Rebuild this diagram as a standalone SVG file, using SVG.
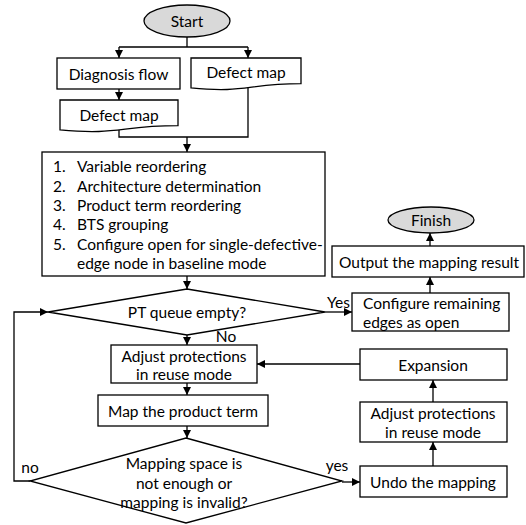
<svg xmlns="http://www.w3.org/2000/svg" width="526" height="525" viewBox="0 0 526 525">
<style>
.s{fill:#fff;stroke:#000;stroke-width:1.3}
.e{fill:#d9d9d9;stroke:#000;stroke-width:1.3}
.c{fill:none;stroke:#000;stroke-width:1.3}
text{font-family:Lato,"Liberation Sans",sans-serif;font-size:15.5px;fill:#000}
.m{text-anchor:middle;dominant-baseline:central}
.l{dominant-baseline:central}
</style>
<defs>
<marker id="a" markerUnits="userSpaceOnUse" markerWidth="9" markerHeight="9" refX="8" refY="4" orient="auto"><path d="M0,0 L8,4 L0,8 z" fill="#000"/></marker>
</defs>
<g id="connectors">
<path class="c" d="M187,37 V47 M119,47 H248"/>
<path class="c" d="M119,47 V58" marker-end="url(#a)"/>
<path class="c" d="M248,47 V58" marker-end="url(#a)"/>
<path class="c" d="M119,89 V100" marker-end="url(#a)"/>
<path class="c" d="M119,130 V137 H248 V87"/>
<path class="c" d="M187,137 V152" marker-end="url(#a)"/>
<path class="c" d="M187,276 V289" marker-end="url(#a)"/>
<path class="c" d="M325,312 H352" marker-end="url(#a)"/>
<path class="c" d="M430,293 V277" marker-end="url(#a)"/>
<path class="c" d="M430,246 V233" marker-end="url(#a)"/>
<path class="c" d="M187,335 V345" marker-end="url(#a)"/>
<path class="c" d="M187,383 V395" marker-end="url(#a)"/>
<path class="c" d="M187,426 V438" marker-end="url(#a)"/>
<path class="c" d="M30,481 H14 V312 H48" marker-end="url(#a)"/>
<path class="c" d="M342,482 H360" marker-end="url(#a)"/>
<path class="c" d="M433,466 V442" marker-end="url(#a)"/>
<path class="c" d="M433,402 V380" marker-end="url(#a)"/>
<path class="c" d="M360,364 H257" marker-end="url(#a)"/>
<text class="l" x="327" y="302">Yes</text>
<text class="m" x="226" y="336">No</text>
<text class="m" x="30" y="467">no</text>
<text class="m" x="337" y="465">yes</text>
</g>
<g id="start"><ellipse class="e" cx="187" cy="21" rx="43" ry="16"/><text class="m" x="187" y="21">Start</text></g>
<g id="diagnosis"><rect class="s" x="57" y="58" width="123" height="31"/><text class="m" x="118.5" y="74">Diagnosis flow</text></g>
<g id="defect-map-1"><path class="s" d="M191,58 H301 V83.7 C246,83.7 246,93.4 191,87.9 Z"/><text class="m" x="246" y="72">Defect map</text></g>
<g id="defect-map-2"><path class="s" d="M60,100 H178 V125.7 C119,125.7 119,135.4 60,129.9 Z"/><text class="m" x="119" y="115">Defect map</text></g>
<g id="steps"><rect class="s" x="42" y="152" width="283" height="124"/>
<text class="l" x="53" y="166">1.</text><text class="l" x="77" y="166">Variable reordering</text>
<text class="l" x="53" y="186">2.</text><text class="l" x="77" y="186">Architecture determination</text>
<text class="l" x="53" y="205">3.</text><text class="l" x="77" y="205">Product term reordering</text>
<text class="l" x="53" y="224">4.</text><text class="l" x="77" y="224">BTS grouping</text>
<text class="l" x="53" y="244">5.</text><text class="l" x="77" y="244">Configure open for single-defective-</text>
<text class="l" x="77" y="263">edge node in baseline mode</text>
</g>
<g id="pt-queue"><path class="s" d="M187,289 L325,312 L187,335 L48,312 Z"/><text class="m" x="187" y="312">PT queue empty?</text></g>
<g id="configure"><rect class="s" x="352" y="293" width="157" height="38"/><text class="l" x="363" y="303">Configure remaining</text><text class="l" x="363" y="322">edges as open</text></g>
<g id="output"><rect class="s" x="332" y="246" width="192" height="31"/><text class="m" x="429" y="262">Output the mapping result</text></g>
<g id="finish"><ellipse class="e" cx="431" cy="220" rx="43" ry="13"/><text class="m" x="431" y="220">Finish</text></g>
<g id="adjust-1"><rect class="s" x="111" y="345" width="146" height="38"/><text class="m" x="184" y="356">Adjust protections</text><text class="m" x="184" y="374">in reuse mode</text></g>
<g id="map"><rect class="s" x="98" y="395" width="170" height="31"/><text class="m" x="183" y="411">Map the product term</text></g>
<g id="check"><path class="s" d="M186,438 L342,481 L186,523 L30,481 Z"/><text class="m" x="184" y="463">Mapping space is</text><text class="m" x="184" y="483">not enough or</text><text class="m" x="184" y="502">mapping is invalid?</text></g>
<g id="undo"><rect class="s" x="360" y="466" width="147" height="31"/><text class="m" x="433" y="482">Undo the mapping</text></g>
<g id="adjust-2"><rect class="s" x="360" y="402" width="147" height="40"/><text class="m" x="433" y="413">Adjust protections</text><text class="m" x="433" y="432">in reuse mode</text></g>
<g id="expansion"><rect class="s" x="360" y="349" width="147" height="31"/><text class="m" x="433" y="365">Expansion</text></g>
</svg>
